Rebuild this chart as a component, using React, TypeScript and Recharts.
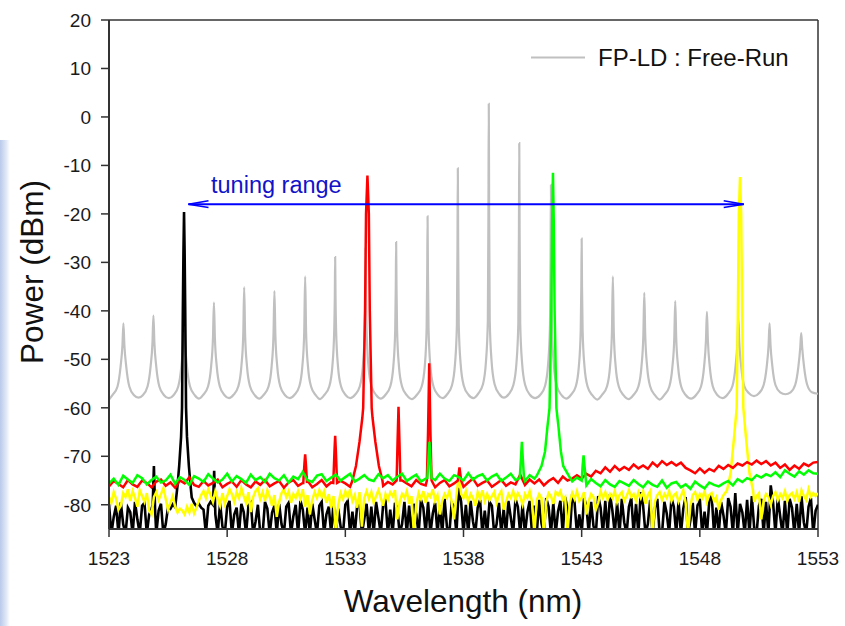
import React from 'react';
import { LineChart, Line, XAxis, YAxis, ReferenceLine } from 'recharts';

const FONT = '"Liberation Sans", Arial, Helvetica, sans-serif';

// axis ticks
const xTicks = [1523, 1528, 1533, 1538, 1543, 1548, 1553];
const yTicks = [-80, -70, -60, -50, -40, -30, -20, -10, 0, 10, 20];

// FP-LD free-run spectrum (wavelength nm, power dBm)
const freeRun: [number, number][] = [
  [1523.0, -58.3],
  [1523.16, -57.3], [1523.36, -55.6], [1523.49, -51.5], [1523.57, -47], [1523.61, -42.6], [1523.65, -47], [1523.73, -51.5], [1523.86, -55.6], [1524.06, -57.4],
  [1524.25, -57.9],
  [1524.43, -57.4], [1524.63, -55.6], [1524.76, -51.5], [1524.84, -46.5], [1524.88, -41.0], [1524.92, -46.5], [1525.0, -51.5], [1525.13, -55.6], [1525.33, -57.4],
  [1525.53, -58.0],
  [1525.73, -57.4], [1525.93, -55.6], [1526.06, -51.5], [1526.14, -46], [1526.18, -39.5], [1526.22, -46], [1526.3, -51.5], [1526.43, -55.6], [1526.63, -57.4],
  [1526.81, -58.1],
  [1526.99, -57.3], [1527.19, -55.6], [1527.32, -51.5], [1527.4, -45.5], [1527.44, -38.3], [1527.48, -45.5], [1527.56, -51.5], [1527.69, -55.6], [1527.89, -57.4],
  [1528.08, -58.0],
  [1528.27, -57.3], [1528.47, -55.6], [1528.6, -51.5], [1528.68, -45], [1528.72, -35.1], [1528.76, -45], [1528.84, -51.5], [1528.97, -55.6], [1529.17, -57.4],
  [1529.36, -58.1],
  [1529.55, -57.3], [1529.75, -55.6], [1529.88, -51.5], [1529.96, -45], [1530.0, -35.9], [1530.04, -45], [1530.12, -51.5], [1530.25, -55.6], [1530.45, -57.4],
  [1530.65, -58.0],
  [1530.85, -57.3], [1531.05, -55.6], [1531.18, -51.5], [1531.26, -44.5], [1531.3, -32.9], [1531.34, -44.5], [1531.42, -51.5], [1531.55, -55.6], [1531.75, -57.4],
  [1531.93, -58.2],
  [1532.12, -57.3], [1532.32, -55.6], [1532.45, -51.5], [1532.53, -44], [1532.555, -37], [1532.57, -28.9], [1532.585, -37], [1532.61, -44], [1532.69, -51.5], [1532.82, -55.6], [1533.02, -57.4],
  [1533.21, -58.0],
  [1533.41, -57.3], [1533.61, -55.6], [1533.74, -51.5], [1533.82, -44], [1533.845, -36], [1533.86, -27], [1533.875, -36], [1533.9, -44], [1533.98, -51.5], [1534.11, -55.6], [1534.31, -57.4],
  [1534.5, -58.1],
  [1534.7, -57.3], [1534.9, -55.6], [1535.03, -51.5], [1535.11, -44], [1535.135, -35], [1535.15, -25.8], [1535.165, -35], [1535.19, -44], [1535.27, -51.5], [1535.4, -55.6], [1535.6, -57.4],
  [1535.81, -58.2],
  [1536.03, -57.3], [1536.23, -55.6], [1536.36, -51.5], [1536.44, -43.5], [1536.465, -32], [1536.48, -20.5], [1536.495, -32], [1536.52, -43.5], [1536.6, -51.5], [1536.73, -55.6], [1536.93, -57.4],
  [1537.12, -58.0],
  [1537.31, -57.2], [1537.51, -55.4], [1537.64, -51], [1537.72, -43], [1537.745, -27], [1537.76, -10.6], [1537.775, -27], [1537.8, -43], [1537.88, -51], [1538.01, -55.4], [1538.21, -57.3],
  [1538.42, -58.0],
  [1538.62, -57.1], [1538.82, -55.2], [1538.95, -50.5], [1539.03, -42], [1539.055, -20], [1539.07, 2.7], [1539.085, -20], [1539.11, -42], [1539.19, -50.5], [1539.32, -55.2], [1539.52, -57.2],
  [1539.71, -57.9],
  [1539.91, -57.2], [1540.11, -55.3], [1540.24, -50.8], [1540.32, -42.5], [1540.345, -24], [1540.36, -5.4], [1540.375, -24], [1540.4, -42.5], [1540.48, -50.8], [1540.61, -55.3], [1540.81, -57.3],
  [1541.03, -58.0],
  [1541.25, -57.3], [1541.45, -55.5], [1541.58, -51], [1541.66, -43], [1541.685, -29], [1541.7, -14], [1541.715, -29], [1541.74, -43], [1541.82, -51], [1541.95, -55.5], [1542.15, -57.4],
  [1542.35, -58.1],
  [1542.55, -57.3], [1542.75, -55.6], [1542.88, -51.5], [1542.96, -44], [1542.985, -35], [1543.0, -25.1], [1543.015, -35], [1543.04, -44], [1543.12, -51.5], [1543.25, -55.6], [1543.45, -57.4],
  [1543.66, -58.3],
  [1543.87, -57.3], [1544.07, -55.6], [1544.2, -51.5], [1544.28, -44.5], [1544.32, -32.9], [1544.36, -44.5], [1544.44, -51.5], [1544.57, -55.6], [1544.77, -57.4],
  [1544.98, -58.2],
  [1545.2, -57.3], [1545.4, -55.6], [1545.53, -51.5], [1545.61, -45], [1545.65, -36.3], [1545.69, -45], [1545.77, -51.5], [1545.9, -55.6], [1546.1, -57.4],
  [1546.3, -58.3],
  [1546.51, -57.3], [1546.71, -55.6], [1546.84, -51.5], [1546.92, -45.5], [1546.96, -38.0], [1547.0, -45.5], [1547.08, -51.5], [1547.21, -55.6], [1547.41, -57.4],
  [1547.63, -58.1],
  [1547.85, -57.3], [1548.05, -55.6], [1548.18, -51.5], [1548.26, -46], [1548.3, -40.2], [1548.34, -46], [1548.42, -51.5], [1548.55, -55.6], [1548.75, -57.4],
  [1548.96, -58.0],
  [1549.18, -57.2], [1549.38, -55.5], [1549.51, -51.5], [1549.59, -46.5], [1549.63, -41.4], [1549.67, -46.5], [1549.75, -51.5], [1549.88, -55.5], [1550.08, -57.0],
  [1550.29, -57.6],
  [1550.5, -57.0], [1550.7, -55.3], [1550.83, -51.5], [1550.91, -47], [1550.95, -42.6], [1550.99, -47], [1551.07, -51.5], [1551.2, -55.3], [1551.4, -56.8],
  [1551.62, -57.2],
  [1551.84, -56.8], [1552.04, -55.2], [1552.17, -51.5], [1552.25, -47.5], [1552.29, -44.6], [1552.33, -47.5], [1552.41, -51.5], [1552.54, -55.2], [1552.74, -56.8],
  [1553.0, -57.1],
];

// injection-locked traces: noise floor sampled from 1523 nm on a fixed step ...
const GRID_START = 1523;

// black & yellow: every 0.1 nm
const blackNoise = [
  -79.8, -86, -82.5, -80.2, -86, -79.5, -84, -86, -80.6, -81.5,
  -86, -79.4, -83, -86, -80.2, -79.6, -86, -82, -80.8, -80,
  -86, -81.2, -79.8, -86, -84, -80.4, -80.8, -79.9, -80.5, -79,
  -70, -50, -50, -60, -70, -78.5, -79.6, -80.3, -79.8, -80.6,
  -81, -86, -80.2, -79.4, -80, -80, -86, -79.6, -84.5, -86,
  -80.4, -79.2, -86, -82, -80.6, -86, -79.8, -81.5, -86, -80.2,
  -79.6, -86, -83.5, -80, -86, -86, -79.4, -80.8, -86, -81.6,
  -80.2, -86, -79.8, -84, -86, -80.4, -79.6, -86, -82.4, -80,
  -86, -79.2, -81, -86, -80.6, -86, -79.8, -83, -86, -80.2,
  -79.4, -86, -82, -80.4, -86, -79.6, -86, -80.8, -84.5, -86,
  -80, -79.2, -86, -81.4, -86, -80.2, -79.6, -86, -83, -79.8,
  -86, -80.4, -86, -79.4, -82.6, -86, -80, -79.2, -86, -81,
  -86, -79.6, -80.8, -86, -84, -79.4, -86, -80.2, -86, -79.8,
  -82, -86, -79, -80.6, -86, -79.4, -86, -81.8, -79.6, -86,
  -80.2, -86, -78.8, -84.6, -86, -79.6, -80.4, -86, -76.5, -79.4,
  -86, -80, -86, -79.2, -83.4, -86, -80.6, -79, -86, -81.2,
  -86, -79.4, -80.2, -86, -84, -79.6, -86, -80.8, -86, -79.2,
  -82.6, -86, -78.8, -80.4, -86, -79.8, -86, -81.6, -79.2, -86,
  -80.2, -86, -79, -83.8, -86, -78.6, -80.4, -86, -79.6, -86,
  -81.4, -79.2, -86, -78.4, -80.8, -86, -77.8, -79.6, -86, -82,
  -86, -78.6, -80.2, -86, -79.4, -84.4, -86, -78.2, -80.6, -86,
  -79.2, -86, -77.8, -81.2, -86, -79.6, -86, -78.8, -83.6, -86,
  -80.4, -78.6, -86, -79.8, -86, -77.4, -80.2, -86, -84, -79,
  -86, -80.6, -78.8, -86, -86, -79.4, -81.8, -86, -78.6, -80.4,
  -86, -79.2, -86, -80.8, -78.4, -86, -83.2, -79.6, -86, -80.2,
  -78.8, -86, -81.4, -86, -79.2, -77.8, -86, -80.6, -86, -79.4,
  -82.2, -86, -78.6, -80.4, -86, -77.6, -86, -79.8, -81.6, -86,
  -79, -86, -78.2, -84.8, -86, -80.2, -78.8, -86, -79.4, -86,
  -76, -79.6, -86, -78.4, -82.4, -86, -79.2, -86, -78.8, -80.6,
  -86, -79.8, -86, -78.2, -83.6, -86, -80.4, -78.6, -86, -81.2,
  -80,
];

const yellowNoise = [
  -78.4, -79.6, -77.4, -78.8, -81, -80.2, -77.6, -78.4, -76.8, -79.2,
  -77.2, -78.6, -80.4, -77, -78.2, -79.4, -77.6, -81.2, -82, -78.4,
  -77.4, -79, -77.8, -76.6, -78.8, -81, -79.6, -78.2, -80.4, -81.6,
  -80.8, -81.2, -82, -80.4, -81.6, -79.8, -81.8, -80.6, -79.2, -78,
  -77.2, -78.6, -76.8, -78, -79.4, -77.2, -78.8, -80.2, -77.6, -79.8,
  -78.2, -76.8, -77.8, -79.4, -77.4, -78.6, -76.6, -78.2, -79.6, -77.4,
  -81.5, -78.4, -77.2, -76.6, -78.8, -77.4, -79.2, -77, -78.4, -80.2,
  -78, -82.5, -79.4, -77.6, -76.8, -78.4, -77.2, -79.6, -77.8, -78.6,
  -77.2, -78.8, -76.8, -80.4, -78, -82, -79, -77.4, -78.6, -77,
  -78.4, -77.2, -79.6, -77.8, -80.6, -78.2, -86, -80, -77.6, -78.8,
  -77.2, -78.4, -76.8, -79.2, -78, -80.6, -77.4, -84.5, -78.6, -77.2,
  -78.8, -77.4, -79.6, -78.2, -77, -78.6, -80.2, -77.8, -79, -77.4,
  -78.2, -77, -83, -79.4, -77.8, -78.6, -77.2, -79.8, -78.2, -86,
  -80, -77.6, -78.8, -77.2, -79.6, -77.8, -78.4, -76.8, -79.2, -78,
  -82, -79.2, -77.8, -78.6, -77.2, -79.4, -83, -78.2, -74, -77.8,
  -78.6, -77.2, -79.4, -77.8, -78.6, -80.2, -77.4, -78.8, -77, -79.2,
  -77.8, -79, -78.2, -77.4, -79.6, -78, -77.2, -81, -79.4, -77.8,
  -78.6, -77.2, -79, -77.6, -78.4, -80, -77.8, -78.6, -77.2, -79.4,
  -86, -79, -77.8, -78.6, -86, -79.4, -77.6, -78.2, -79.8, -77.4,
  -78, -77.2, -79, -78.4, -86, -79.6, -77.6, -78.8, -77.2, -79.2,
  -78.6, -77.4, -82, -79.2, -77.8, -78.4, -81, -79.6, -77.2, -78.6,
  -77.4, -79, -77.8, -78.6, -77.2, -79.4, -78, -77.4, -79.2, -78.2,
  -77, -78.4, -77.8, -79.2, -77.4, -78.6, -77.2, -79.8, -78, -77.2,
  -86, -79.4, -78, -77.4, -79, -77.8, -78.6, -77.2, -79.2, -78,
  -77.6, -79.4, -78.2, -77, -79.6, -86, -80.2, -78, -77.4, -79,
  -77.8, -78.6, -77.2, -79.4, -78, -77.6, -79.2, -78.4, -81, -79,
  -78, -77.4, -77, -77, -77, -77, -77, -77, -77, -77,
  -77, -77, -77, -79.4, -78.2, -77.6, -83, -79.2, -77.8, -78.4,
  -80, -78.2, -77.4, -79, -77.8, -78.6, -77.2, -79.2, -78, -77.6,
  -78.8, -77.4, -79.4, -77, -78.2, -79, -76.8, -78.4, -77.6, -78.2,
  -77.6,
];

// red & green: every 0.2 nm
const redNoise = [
  -76.2, -75.1, -75.7, -76.4, -74.9, -75.8, -76.3, -75.0, -75.5, -76.4,
  -75.2, -74.8, -76.1, -75.4, -76.5, -75.0, -75.6, -74.3, -75.9, -76.3,
  -75.1, -76.0, -75.5, -74.8, -76.4, -75.7, -75.2, -76.3, -74.9, -75.8,
  -76.4, -75.2, -75.9, -74.9, -76.2, -75.6, -75.1, -76.5, -75.4, -74.9,
  -76.1, -75.5, -75.0, -76.4, -75.7, -74.9, -76.2, -75.4, -76.0, -75.1,
  -75.6, -76.3, -75.2, -74.6, -74.5, -74.0, -74.6, -75.2, -76.1, -75.3,
  -75.8, -76.4, -75.0, -75.6, -76.2, -74.9, -75.7, -76.0, -75.3, -76.4,
  -75.5, -74.9, -76.2, -75.6, -75.0, -76.3, -75.4, -74.6, -76.1, -75.5,
  -75.0, -76.3, -75.6, -74.9, -76.1, -75.4, -75.8, -73.8, -75.9, -74.8,
  -75.6, -74.8, -76.0, -75.1, -74.5, -75.5, -74.2, -75.0, -74.6, -73.9,
  -74.6, -73.6, -74.2, -73.0, -73.5, -72.3, -73.2, -72.0, -72.9, -72.2,
  -72.8, -71.7, -72.5, -71.9, -72.6, -71.3, -72.1, -71.0, -71.8, -71.2,
  -71.9, -71.3, -72.4, -72.9, -73.5, -72.5, -73.4, -72.6, -73.1, -72.0,
  -72.6, -71.8, -72.4, -71.5, -71.9, -71.2, -71.7, -70.9, -71.6, -71.0,
  -71.9, -71.3, -72.4, -71.7, -72.8, -71.9, -72.6, -71.5, -72.0, -71.3, -71.2,
];

const greenNoise = [
  -75.6, -74.6, -75.9, -74.0, -74.8, -75.5, -73.9, -74.5, -75.8, -74.9,
  -74.2, -75.4, -75.0, -73.8, -75.7, -74.3, -74.9, -75.9, -74.1, -74.6,
  -75.3, -73.7, -74.6, -75.4, -74.8, -73.6, -75.2, -74.1, -74.7, -75.5,
  -73.8, -74.9, -74.3, -75.3, -73.6, -74.5, -75.0, -73.9, -75.4, -74.2,
  -74.7, -73.2, -74.9, -75.3, -74.0, -73.7, -75.1, -74.4, -73.8, -75.0,
  -74.3, -73.6, -75.2, -74.6, -73.9, -74.8, -75.1, -73.7, -74.5, -73.9,
  -75.0, -74.2, -73.6, -75.1, -74.4, -73.8, -75.2, -74.6, -73.9, -74.9,
  -73.6, -74.6, -75.1, -73.9, -74.3, -75.0, -73.5, -74.8, -74.1, -73.7,
  -75.0, -74.2, -73.7, -75.1, -74.4, -73.6, -74.9, -74.2, -75.1, -73.9,
  -74.6, -74.0, -72.0, -70.0, -65.0, -64.0, -68.0, -72.0, -75.2, -74.4,
  -75.0, -76.0, -74.7, -75.5, -76.2, -74.9, -75.8, -76.3, -75.1, -75.6,
  -76.1, -74.9, -75.7, -76.4, -75.2, -75.9, -76.3, -75.0, -76.5, -75.6,
  -75.3, -76.4, -75.8, -76.7, -75.2, -76.0, -76.6, -75.4, -75.9, -76.2,
  -75.6, -75.1, -76.0, -74.7, -75.3, -74.5, -74.9, -73.9, -74.4, -73.7,
  -74.1, -73.3, -74.3, -72.9, -73.6, -74.2, -73.1, -73.8, -72.9, -73.5, -73.6,
];

// ... plus the lasing / side-mode peaks of each trace (wavelength nm, power dBm)
const blackPeaks: [number, number][][] = [
  [[1524.85, -80], [1524.9, -72], [1524.95, -81]],
  [[1525.9, -76], [1525.97, -72], [1526.05, -66], [1526.09, -60], [1526.125, -40], [1526.15, -28], [1526.175, -19.6],
   [1526.2, -28], [1526.225, -40], [1526.26, -60], [1526.3, -66], [1526.38, -72], [1526.45, -76]],
  [[1527.4, -80], [1527.45, -73], [1527.5, -82]],
];

const redPeaks: [number, number][][] = [
  [[1531.22, -75.5], [1531.27, -71.5], [1531.3, -69.6], [1531.33, -71.5], [1531.38, -75.5]],
  [[1532.49, -75.5], [1532.54, -69], [1532.57, -65.8], [1532.6, -69], [1532.65, -75.5]],
  [[1533.3, -75], [1533.45, -72], [1533.6, -67], [1533.72, -62], [1533.755, -60], [1533.835, -40], [1533.875, -20], [1533.935, -12.1],
   [1533.995, -20], [1534.035, -40], [1534.115, -60], [1534.15, -62], [1534.27, -67], [1534.42, -72], [1534.57, -75]],
  [[1535.17, -75], [1535.21, -67], [1535.25, -59.8], [1535.29, -67], [1535.33, -75]],
  [[1536.45, -75], [1536.5, -65], [1536.55, -50.8], [1536.6, -65], [1536.65, -75]],
  [[1537.76, -75], [1537.83, -72.3], [1537.9, -75]],
];

const greenPeaks: [number, number][][] = [
  [[1536.47, -74.5], [1536.52, -70.5], [1536.56, -67], [1536.6, -70.5], [1536.65, -74.5]],
  [[1540.38, -74.5], [1540.43, -70.5], [1540.47, -67], [1540.51, -70.5], [1540.56, -74.5]],
  [[1541.1, -74], [1541.3, -72], [1541.45, -69], [1541.55, -64], [1541.64, -60], [1541.715, -40], [1541.75, -22], [1541.785, -11.5],
   [1541.82, -22], [1541.855, -40], [1541.93, -60], [1542.02, -64], [1542.12, -69], [1542.22, -72], [1542.45, -74]],
  [[1543.0, -75], [1543.04, -72], [1543.08, -69.8], [1543.12, -72], [1543.18, -75]],
];

const yellowPeaks: [number, number][][] = [
  [[1549.15, -77], [1549.3, -73.5], [1549.45, -66], [1549.56, -60], [1549.61, -40], [1549.65, -20], [1549.7, -12.4],
   [1549.75, -20], [1549.79, -40], [1549.84, -60], [1549.95, -66], [1550.1, -73.5], [1550.25, -77]],
];

type Pt = { wl: number; p: number };

const buildTrace = (noise: number[], step: number, peaks: [number, number][][]): Pt[] => {
  const pts: Pt[] = noise
    .map((p, i) => ({ wl: Math.round((GRID_START + step * i) * 100) / 100, p }))
    .filter(pt => !peaks.some(g => pt.wl >= g[0][0] && pt.wl <= g[g.length - 1][0]));
  peaks.forEach(g => g.forEach(([wl, p]) => pts.push({ wl, p })));
  return pts.sort((a, b) => a.wl - b.wl);
};

const freeRunData: Pt[] = freeRun.map(([wl, p]) => ({ wl, p }));
const blackData = buildTrace(blackNoise, 0.1, blackPeaks);
const yellowData = buildTrace(yellowNoise, 0.1, yellowPeaks);
const redData = buildTrace(redNoise, 0.2, redPeaks);
const greenData = buildTrace(greenNoise, 0.2, greenPeaks);

// tuning range arrow (nm / dBm)
const ARROW_L = 1526.36;
const ARROW_R = 1549.86;
const ARROW_Y = -18;

const AXIS = '#333333';
const BLUE = '#0000ff';

const XTick = (props: any) => {
  const { x, y, payload } = props;
  return (
    <text x={x} y={y} dy="0.72em" textAnchor="middle" fontSize={19} fill="#1a1a1a" fontFamily={FONT}>
      {payload.value}
    </text>
  );
};

const YTick = (props: any) => {
  const { x, y, payload } = props;
  return (
    <text x={x} y={y} dy="0.36em" textAnchor="end" fontSize={19} fill="#1a1a1a" fontFamily={FONT}>
      {payload.value}
    </text>
  );
};

export default function App() {
  return (
    <div style={{ position: 'absolute', left: 0, top: 0, width: 845, height: 626, background: '#fff', fontFamily: FONT }}>
      <div
        style={{
          position: 'absolute', left: 0, top: 140, width: 10, height: 486,
          background: 'linear-gradient(to right, #b9c9ea, #dfe7f6 60%, #ffffff)',
        }}
      />
      <LineChart width={845} height={626} data={freeRunData} margin={{ top: 20, right: 27, bottom: 57, left: 9 }}>
        <XAxis
          dataKey="wl"
          type="number"
          domain={[1523, 1553]}
          ticks={xTicks}
          interval={0}
          allowDataOverflow
          height={40}
          tickSize={8}
          tickMargin={14}
          tick={XTick}
          axisLine={{ stroke: AXIS, strokeWidth: 2 }}
          tickLine={{ stroke: AXIS, strokeWidth: 1.5 }}
        />
        <YAxis
          type="number"
          domain={[-85, 20]}
          ticks={yTicks}
          interval={0}
          allowDataOverflow
          width={100}
          tickSize={8}
          tickMargin={10}
          tick={YTick}
          axisLine={{ stroke: AXIS, strokeWidth: 2 }}
          tickLine={{ stroke: AXIS, strokeWidth: 1.5 }}
        />
        <ReferenceLine y={20} stroke={AXIS} strokeWidth={1.5} />
        <ReferenceLine x={1553} stroke={AXIS} strokeWidth={1.5} />

        <Line data={freeRunData} dataKey="p" type="monotone" stroke="#c0c0c0" strokeWidth={2.2} dot={false} isAnimationActive={false} />
        <Line data={blackData} dataKey="p" type="linear" stroke="#000000" strokeWidth={2.6} dot={false} isAnimationActive={false} />
        <Line data={yellowData} dataKey="p" type="linear" stroke="#ffff00" strokeWidth={2.5} dot={false} isAnimationActive={false} />
        <Line data={redData} dataKey="p" type="linear" stroke="#ff0000" strokeWidth={2.5} dot={false} isAnimationActive={false} />
        <Line data={greenData} dataKey="p" type="linear" stroke="#00ff00" strokeWidth={2.5} dot={false} isAnimationActive={false} />

        <ReferenceLine segment={[{ x: ARROW_L, y: ARROW_Y }, { x: ARROW_R, y: ARROW_Y }]} stroke={BLUE} strokeWidth={2} isFront />
        <ReferenceLine segment={[{ x: ARROW_L, y: ARROW_Y }, { x: ARROW_L + 0.85, y: ARROW_Y + 0.7 }]} stroke={BLUE} strokeWidth={1.5} isFront />
        <ReferenceLine segment={[{ x: ARROW_L, y: ARROW_Y }, { x: ARROW_L + 0.85, y: ARROW_Y - 0.7 }]} stroke={BLUE} strokeWidth={1.5} isFront />
        <ReferenceLine segment={[{ x: ARROW_R, y: ARROW_Y }, { x: ARROW_R - 0.85, y: ARROW_Y + 0.7 }]} stroke={BLUE} strokeWidth={1.5} isFront />
        <ReferenceLine segment={[{ x: ARROW_R, y: ARROW_Y }, { x: ARROW_R - 0.85, y: ARROW_Y - 0.7 }]} stroke={BLUE} strokeWidth={1.5} isFront />
      </LineChart>

      <svg width={845} height={626} style={{ position: 'absolute', left: 0, top: 0, pointerEvents: 'none' }}>
        <text x={211} y={193} fontSize={23.5} fill="#1212c8" fontFamily={FONT}>tuning range</text>
        <line x1={531} y1={57.5} x2={585} y2={57.5} stroke="#c0c0c0" strokeWidth={2} />
        <text x={598} y={65.5} fontSize={24} fill="#111" fontFamily={FONT}>FP-LD : Free-Run</text>
        <text x={463} y={612} fontSize={31.5} fill="#111" fontFamily={FONT} textAnchor="middle">Wavelength (nm)</text>
        <text x={43} y={272} fontSize={31.5} fill="#111" fontFamily={FONT} textAnchor="middle" transform="rotate(-90 43 272)">Power (dBm)</text>
      </svg>
    </div>
  );
}
